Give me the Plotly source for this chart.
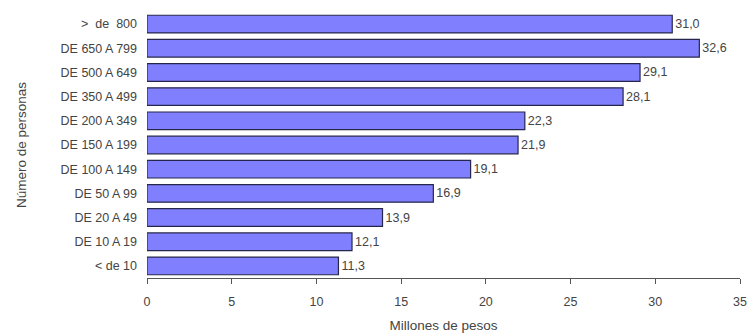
import plotly.graph_objects as go

categories = ["&lt; de 10", "DE 10 A 19", "DE 20 A 49", "DE 50 A 99", "DE 100 A 149",
              "DE 150 A 199", "DE 200 A 349", "DE 350 A 499", "DE 500 A 649",
              "DE 650 A 799", "&gt;  de  800"]
values = [11.3, 12.1, 13.9, 16.9, 19.1, 21.9, 22.3, 28.1, 29.1, 32.6, 31.0]
x_ticks = [0, 5, 10, 15, 20, 25, 30, 35]

FONT = "Liberation Sans, Arial, sans-serif"
TXT = "#444444"

fig = go.Figure(go.Bar(
    x=values, y=categories, orientation="h",
    marker=dict(color="#8080FF", line=dict(color="#26264d", width=1.2)),
    text=[f"{v:.1f}".replace(".", ",") for v in values],
    textposition="outside", cliponaxis=False,
    textfont=dict(family=FONT, size=12.5, color=TXT),
))

fig.update_layout(
    width=750, height=335,
    margin=dict(l=147, r=10, t=12, b=57),
    paper_bgcolor="white", plot_bgcolor="white",
    bargap=0.27, showlegend=False,
    font=dict(family=FONT, size=12.5, color=TXT),
    xaxis=dict(range=[0, 35], tickvals=x_ticks, showgrid=False, zeroline=False,
               showline=True, linecolor="#555555", linewidth=1,
               ticks="outside", ticklen=5, tickcolor="#555555",
               ticklabelstandoff=7, automargin=False,
               tickfont=dict(family=FONT, size=12.5, color=TXT),
               title=dict(text="Millones de pesos", standoff=12,
                          font=dict(family=FONT, size=13.5, color=TXT))),
    yaxis=dict(categoryorder="array", categoryarray=categories,
               showgrid=False, zeroline=False, showline=False, ticks="",
               ticklabelstandoff=9, automargin=False,
               tickfont=dict(family=FONT, size=12.5, color=TXT),
               title=dict(text="Número de personas", standoff=30,
                          font=dict(family=FONT, size=13.5, color=TXT))),
)

fig.write_html("out.html")
